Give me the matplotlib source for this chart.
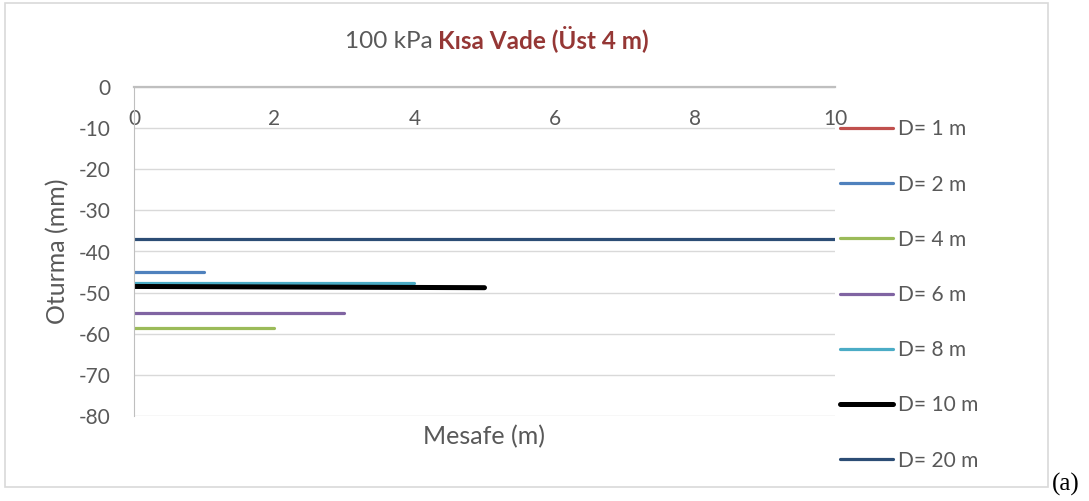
import matplotlib.pyplot as plt
from matplotlib.patches import Rectangle

# --- Data: settlement (mm) along distance (m) for each depth D ---
labels = ['D= 1 m', 'D= 2 m', 'D= 4 m', 'D= 6 m', 'D= 8 m', 'D= 10 m', 'D= 20 m']
colors = ['#C0504D', '#4F81BD', '#9BBB59', '#8064A2', '#4BACC6', '#000000', '#2C4D75']
widths = [2.3, 2.3, 2.3, 2.3, 2.3, 3.6, 2.3]

mesafe_d1 = []
oturma_d1 = []
mesafe_d2 = [0, 1]
oturma_d2 = [-45.1, -45.1]
mesafe_d4 = [0, 2]
oturma_d4 = [-58.7, -58.7]
mesafe_d6 = [0, 3]
oturma_d6 = [-54.9, -54.9]
mesafe_d8 = [0, 4]
oturma_d8 = [-47.7, -47.7]
mesafe_d10 = [0, 5]
oturma_d10 = [-48.5, -48.8]
mesafe_d20 = [0, 10]
oturma_d20 = [-37.0, -37.0]

x_series = [mesafe_d1, mesafe_d2, mesafe_d4, mesafe_d6, mesafe_d8, mesafe_d10, mesafe_d20]
y_series = [oturma_d1, oturma_d2, oturma_d4, oturma_d6, oturma_d8, oturma_d10, oturma_d20]

x_ticks = [0, 2, 4, 6, 8, 10]
y_ticks = [0, -10, -20, -30, -40, -50, -60, -70, -80]

TEXT = '#595959'
GRID = '#D9D9D9'
plt.rcParams['font.family'] = ['Lato', 'DejaVu Sans']
plt.rcParams['axes.unicode_minus'] = False

W, H = 1089, 501
fig = plt.figure(figsize=(W / 100, H / 100), dpi=100)
ax = fig.add_axes([134 / W, 1 - 416 / H, (835 - 134) / W, (416 - 87) / H])

for xs, ys, c, lw, lab in zip(x_series, y_series, colors, widths, labels):
    ax.plot(xs, ys, color=c, lw=lw, label=lab, solid_capstyle='round')

ax.set_xlim(0, 10)
ax.set_ylim(-80, 0)
ax.set_yticks(y_ticks)
ax.set_xticks(x_ticks)
ax.grid(axis='y', color=GRID, lw=1)
ax.set_axisbelow(True)

for side in ['right', 'bottom']:
    ax.spines[side].set_visible(False)
ax.spines['left'].set_color('#BFBFBF')
ax.spines['top'].set_color('#BFBFBF')
ax.spines['top'].set_linewidth(1.6)

# x labels sit just under the zero line, inside the plot
ax.tick_params(axis='x', top=True, labeltop=True, bottom=False, labelbottom=False,
               length=0, pad=-30, labelsize=15, labelcolor=TEXT)
ax.tick_params(axis='y', length=0, pad=17, labelsize=15, labelcolor=TEXT)

fig.text(58 / W, 1 - 251 / H, 'Oturma (mm)', rotation=90, ha='center', va='center',
         fontsize=18, color=TEXT)
fig.text(484 / W, 1 - 437 / H, 'Mesafe (m)', ha='center', va='center', fontsize=18, color=TEXT)

# two-tone title
fig.text(433 / W, 1 - 48 / H, '100 kPa', ha='right', va='baseline', fontsize=17.5, color=TEXT)
fig.text(438 / W, 1 - 48 / H, 'Kısa Vade (Üst 4 m)', ha='left', va='baseline', fontsize=17.5,
         color='#953735', fontweight='bold')

fig.legend(loc='upper left', bbox_to_anchor=(832 / W, 1 - 111 / H), frameon=False,
           fontsize=15, labelcolor=TEXT, handlelength=2.55, handletextpad=0.2,
           labelspacing=1.69, borderaxespad=0)

fig.patches.append(Rectangle((5 / W, 1 - 487 / H), (1048 - 5) / W, (487 - 3) / H,
                             transform=fig.transFigure, fill=False, edgecolor=GRID, lw=1.2))
fig.text(1052 / W, 1 - 484 / H, '(a)', ha='left', va='center', fontsize=18,
         family='Liberation Serif', color='black')

fig.savefig('out.png', dpi=100)
